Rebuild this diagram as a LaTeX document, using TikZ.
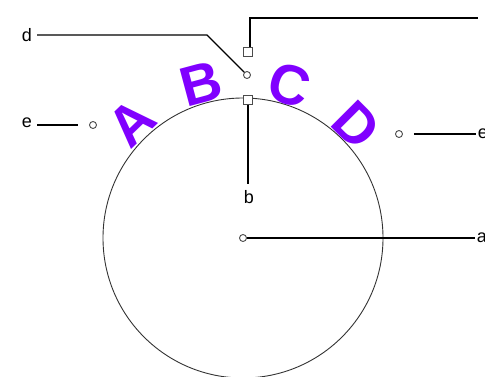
\documentclass[tikz,border=0pt]{standalone}
\usepackage{fontspec}
\setmainfont{Liberation Sans}
\usetikzlibrary{calc}
\definecolor{violetx}{RGB}{128,0,255}
\begin{document}
\begin{tikzpicture}[x=1pt,y=1pt,
  leader/.style={draw=black,line width=1.4pt},
  mk/.style={circle,draw=black!70,line width=0.9pt,minimum size=7pt,inner sep=0pt,fill=white},
  sq/.style={rectangle,draw=black!70,line width=0.9pt,minimum size=9pt,inner sep=0pt,fill=white},
  lbl/.style={font=\fontsize{18}{20}\selectfont,inner sep=2pt},
  arcletter/.style={font=\fontsize{56}{60}\selectfont\bfseries,text=violetx,anchor=base,inner sep=0pt}]
\useasboundingbox (0,0) rectangle (485,376);
% main circle
\coordinate (O) at (243,138);
\draw[black!80,line width=0.9pt] (O) circle (140);
% arc letters
\node[arcletter,rotate=44] (LA) at ($(O)+(134:141)$) {A};
\node[arcletter,rotate=15] (LB) at ($(O)+(105:141)$) {B};
\node[arcletter,rotate=-17] (LC) at ($(O)+(73:141)$) {C};
\node[arcletter,rotate=-45] (LD) at ($(O)+(45:141)$) {D};
% markers
\node[mk] (ac) at (243,138) {};
\node[mk] (dc) at (247,301) {};
\node[sq] (ts) at (248,324) {};
\node[sq] (bs) at (248,276) {};
\node[mk] (elc) at (93,251) {};
\node[mk] (erc) at (399,242) {};
% labels
\node[lbl] (al) at (482,138) {a};
\node[lbl,inner sep=6pt] (bl) at (249,179) {b};
\node[lbl,inner sep=5pt] (dl) at (27,341) {d};
\node[lbl,inner sep=5pt] (el) at (27,253) {e};
\node[lbl] (er) at (483,242) {e};
% free ends
\coordinate (tcorner) at (250,358);
\coordinate (tend) at (478,358);
\coordinate (dcorner) at (207,341);
% connectors
\draw[leader] (ac) -- (al);
\draw[leader] (bs.south) -- (bs.south |- bl.north);
\draw[leader] (dl) -- (dcorner) -- (dc);
\draw[leader,shorten >=11pt] (el.east |- elc) -- (elc.west);
\draw[leader,shorten <=11pt] (erc.east) -- (er.west |- erc);
\draw[leader] (ts.north -| tcorner) -- (tcorner) -- (tend);
\end{tikzpicture}
\end{document}
